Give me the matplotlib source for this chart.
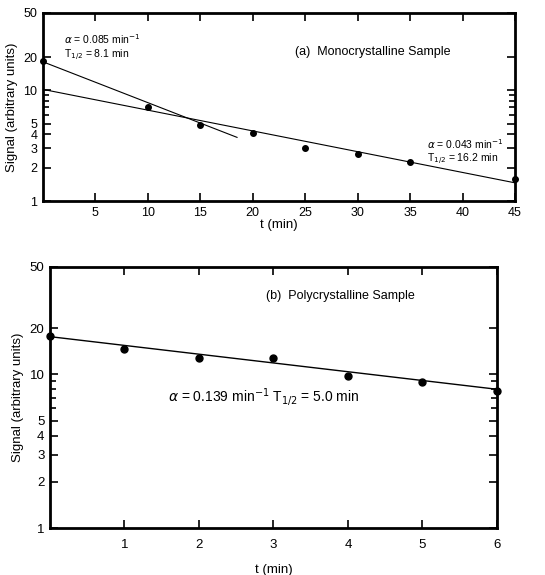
import numpy as np
import matplotlib.pyplot as plt
from matplotlib.ticker import FixedLocator, NullFormatter

plt.rcParams['font.family'] = ['Liberation Sans', 'DejaVu Sans']

# (a) monocrystalline sample
t_a = [0, 10, 15, 20, 25, 30, 35, 45]
sig_a = [18.5, 7.0, 4.85, 4.1, 3.03, 2.64, 2.24, 1.57]
fast_t = [0, 18.5]
fast_sig = [18.1, 3.76]
slow_t = [0, 45]
slow_sig = [10.2, 1.46]

# (b) polycrystalline sample
t_b = [0, 1, 2, 3, 4, 5, 6]
sig_b = [17.9, 14.6, 12.7, 12.8, 9.8, 8.9, 7.8]
fit_t = [0, 6]
fit_sig = [17.6, 8.0]

yticks = [1, 2, 3, 4, 5, 10, 20, 50]
yminor = [6, 7, 8, 9]

fig = plt.figure(figsize=(5.45, 5.75), dpi=100)
ax1 = fig.add_axes([0.0789, 0.6504, 0.866, 0.327])
ax2 = fig.add_axes([0.0917, 0.0817, 0.820, 0.454])


def style(ax, xmax, xticks, size, xpad, lpad):
    ax.set_yscale('log')
    ax.set_ylim(1, 50)
    ax.set_xlim(0, xmax)
    ax.yaxis.set_major_locator(FixedLocator(yticks))
    ax.set_yticklabels([str(v) for v in yticks])
    ax.yaxis.set_minor_locator(FixedLocator(yminor))
    ax.yaxis.set_minor_formatter(NullFormatter())
    ax.set_xticks(xticks)
    ax.set_xticklabels([str(v) for v in xticks])
    ax.tick_params(which='both', direction='in', top=True, right=True,
                   labelsize=size, width=1.2, length=6, pad=4)
    ax.tick_params(axis='x', pad=xpad)
    ax.tick_params(which='minor', length=4)
    for s in ax.spines.values():
        s.set_linewidth(2)
    ax.set_ylabel('Signal (arbitrary units)', fontsize=9.5)
    ax.set_xlabel('t (min)', fontsize=9.5, labelpad=lpad)


style(ax1, 45, [5, 10, 15, 20, 25, 30, 35, 40, 45], 9, 4, 0)
ax1.plot(t_a, sig_a, 'o', color='black', ms=4, clip_on=False, zorder=5)
ax1.plot(fast_t, fast_sig, '-', color='black', lw=0.8)
ax1.plot(slow_t, slow_sig, '-', color='black', lw=0.8)
ax1.text(2, 26, r'$\alpha$ = 0.085 min$^{-1}$', fontsize=7.5)
ax1.text(2, 19.5, r'T$_{1/2}$ = 8.1 min', fontsize=7.5)
ax1.text(24, 21, '(a)  Monocrystalline Sample', fontsize=9)
ax1.text(36.6, 2.95, r'$\alpha$ = 0.043 min$^{-1}$', fontsize=7.5)
ax1.text(36.6, 2.25, r'T$_{1/2}$ = 16.2 min', fontsize=7.5)

style(ax2, 6, [1, 2, 3, 4, 5, 6], 9.5, 8, 9)
ax2.plot(t_b, sig_b, 'o', color='black', ms=5, clip_on=False, zorder=5)
ax2.plot(fit_t, fit_sig, '-', color='black', lw=1.0)
ax2.text(1.58, 6.6, r'$\alpha$ = 0.139 min$^{-1}$ T$_{1/2}$ = 5.0 min', fontsize=10)
ax2.text(2.9, 31, '(b)  Polycrystalline Sample', fontsize=9)

fig.savefig('out.png', dpi=100)
